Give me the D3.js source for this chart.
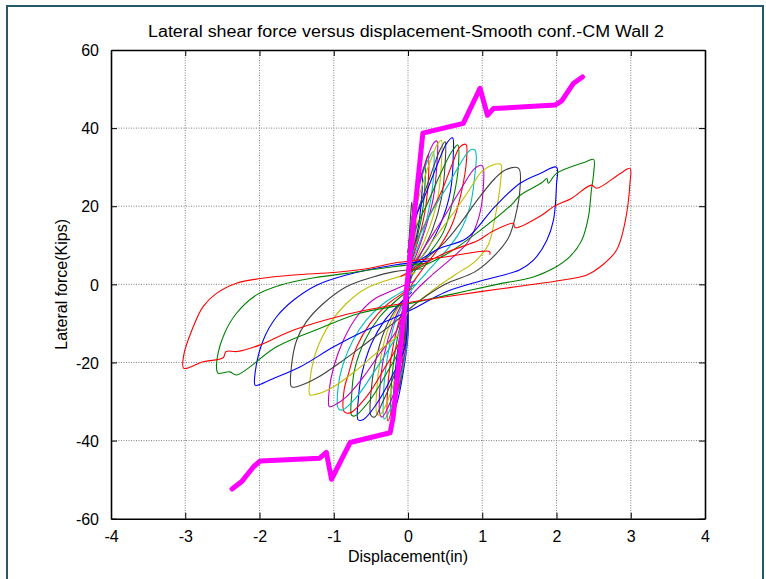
<!DOCTYPE html>
<html><head><meta charset="utf-8">
<script src="https://cdn.jsdelivr.net/npm/d3@7"></script>
<style>body{margin:0;background:#fff}svg{display:block}text{font-family:"Liberation Sans",Arial,sans-serif;fill:#000}</style>
</head><body><div id="chart"></div>
<script>
// ---- data (displacement in, lateral force kips) ----
const xTicks = [-4,-3,-2,-1,0,1,2,3,4];
const yTicks = [-60,-40,-20,0,20,40,60];
const titleText = "Lateral shear force versus displacement-Smooth conf.-CM Wall 2";
const xLabel = "Displacement(in)";
const yLabel = "Lateral force(Kips)";
const colorOrder = ["#0000ff","#008000","#ff0000","#00bfbf","#bf00bf","#bfbf00","#404040"];

const loop00 = [[0,2],[0.02,6],[0.04,8],[0.03,5],[0,1],[-0.02,-5],[-0.04,-10],[-0.03,-6],[0,-2]];
const loop01 = [[0,2],[0.03,7],[0.05,10],[0.04,6],[0,1],[-0.03,-7],[-0.05,-12],[-0.04,-7],[0,-2]];
const loop02 = [[0,3],[0.03,8],[0.06,12],[0.05,8],[0.01,2],[-0.03,-8],[-0.06,-15],[-0.05,-9],[0,-2]];
const loop03 = [[0,3],[0.04,9],[0.08,14],[0.07,9],[0.02,2],[-0.03,-9],[-0.08,-18],[-0.07,-10],[0,-2]];
const loop04 = [[0,3],[0.05,11],[0.1,16],[0.09,11],[0.03,3],[-0.03,-10],[-0.09,-20],[-0.08,-12],[-0.02,-4],[0,-2]];
const loop05 = [[0,3],[0.04,10],[0.09,16],[0.12,18],[0.11,14],[0.07,7],[0.02,2],[0,-2],[-0.04,-10],[-0.09,-18],[-0.11,-22],[-0.1,-17],[-0.06,-9],[-0.02,-4],[0,-2]];
const loop06 = [[0,6],[0.02,13],[0.04,19],[0.05,21],[0.06,18],[0.04,11],[0.01,5],[-0.01,0],[-0.04,-12],[-0.08,-21],[-0.12,-27],[-0.13,-23],[-0.1,-14],[-0.05,-7],[0,-3]];
const loop07 = [[0,8],[0.04,15],[0.09,21],[0.15,26],[0.19,28],[0.19,24],[0.15,16],[0.08,9],[0.02,4],[0,1],[0,-13],[-0.06,-22],[-0.13,-29],[-0.18,-32],[-0.19,-27],[-0.14,-17],[-0.07,-9],[-0.01,-4],[0,-2]];
const loop08 = [[0,8],[0.04,15],[0.1,22],[0.18,28],[0.23,30.5],[0.23,26],[0.19,18],[0.11,11],[0.03,5],[0,2],[-0.01,-14],[-0.08,-23],[-0.17,-30],[-0.22,-33.5],[-0.23,-28],[-0.18,-18],[-0.1,-10],[-0.02,-5],[0,-3]];
const loop09 = [[0,8],[0.05,16],[0.13,24],[0.22,30],[0.27,33.1],[0.28,29],[0.24,20],[0.15,12],[0.05,6],[0,2],[-0.02,-15],[-0.1,-24],[-0.2,-31],[-0.27,-35],[-0.28,-29],[-0.23,-19],[-0.13,-10],[-0.04,-5],[0,-3]];
const loop10 = [[0,8],[0.06,17],[0.15,25],[0.25,31],[0.34,34],[0.35,30],[0.3,21],[0.2,13],[0.08,7],[0,3],[-0.02,-16],[-0.12,-25],[-0.24,-32],[-0.32,-34.5],[-0.33,-28],[-0.28,-19],[-0.18,-10],[-0.06,-5],[0,-3]];
const loop11 = [[0,8],[0.07,18],[0.17,27],[0.28,33.5],[0.35,36.3],[0.39,36.7],[0.39,31],[0.34,22],[0.23,14],[0.1,7],[0,3],[-0.03,-16],[-0.14,-25],[-0.27,-31.5],[-0.35,-34],[-0.38,-33],[-0.38,-27],[-0.32,-18],[-0.2,-10],[-0.08,-5],[0,-3]];
const loop12 = [[0,7],[0.08,17],[0.2,26],[0.33,33],[0.4,36],[0.45,36.9],[0.45,31],[0.4,22],[0.28,14],[0.12,7],[0,3],[-0.04,-15],[-0.17,-24],[-0.3,-31],[-0.38,-33.5],[-0.42,-33],[-0.42,-27],[-0.37,-19],[-0.26,-11],[-0.1,-5],[0,-3]];
const loop13 = [[0,7],[0.1,17],[0.25,25],[0.38,32],[0.43,34.4],[0.5,36.5],[0.5,31],[0.45,22],[0.33,14],[0.15,7],[0,2],[-0.05,-16],[-0.2,-24],[-0.35,-30.5],[-0.45,-34],[-0.5,-33.5],[-0.5,-28],[-0.44,-20],[-0.32,-12],[-0.15,-6],[0,-3]];
const loop14 = [[0,6],[0.07,15.2],[0.25,23.7],[0.41,31.4],[0.52,36.1],[0.6,37.5],[0.61,33.1],[0.57,23.7],[0.45,16],[0.27,9.2],[0.05,3],[-0.04,-16],[-0.22,-23.7],[-0.42,-30.5],[-0.6,-34.6],[-0.67,-34.7],[-0.67,-29.6],[-0.62,-22.8],[-0.49,-15.1],[-0.31,-9.1],[-0.11,-4.9],[0.05,-2]];
const loop15 = [[0,5],[0.09,13.5],[0.27,21.1],[0.45,28.8],[0.59,34],[0.67,35.7],[0.68,30.5],[0.61,22],[0.48,13.5],[0.27,7.5],[0.05,2],[-0.08,-15.1],[-0.29,-22.8],[-0.51,-29.6],[-0.72,-33.7],[-0.76,-33.5],[-0.76,-28.8],[-0.72,-21.9],[-0.58,-14.3],[-0.38,-8.3],[-0.15,-4],[0.05,-1]];
const loop16 = [[0,4],[0.09,10.1],[0.27,16.9],[0.45,23.7],[0.59,30.5],[0.7,35.2],[0.78,35.8],[0.79,32.3],[0.72,23.7],[0.59,15.2],[0.41,9.2],[0.2,4],[0,-2],[-0.11,-14.3],[-0.33,-21.9],[-0.56,-28.8],[-0.78,-32.9],[-0.86,-32.6],[-0.86,-27],[-0.8,-22.8],[-0.69,-16],[-0.51,-10],[-0.29,-5.3],[-0.05,-2],[0.1,0]];
const loop17 = [[0,4],[0.14,11.8],[0.32,18.6],[0.54,25.4],[0.72,31.4],[0.84,34.4],[0.9,34.4],[0.92,32.7],[0.9,28],[0.84,20.3],[0.7,13.5],[0.5,8.3],[0.25,3],[0,-3],[-0.06,-10],[-0.24,-16],[-0.47,-22.8],[-0.69,-28.8],[-0.89,-32.2],[-0.94,-31.7],[-0.94,-26.2],[-0.87,-20.2],[-0.74,-14.3],[-0.56,-9.1],[-0.33,-4.9],[-0.15,-2.7],[0.1,0]];
const loop18 = [[0,3],[0.27,10.9],[0.5,17.7],[0.72,24.6],[0.9,29.7],[1.0,30.4],[1.01,23.7],[0.95,16.9],[0.81,10.9],[0.59,6.7],[0.3,2],[0,-4],[-0.15,-11.7],[-0.38,-17.7],[-0.6,-23.7],[-0.83,-28.8],[-1.0,-31],[-1.06,-31.3],[-1.06,-27],[-1.0,-21.1],[-0.87,-14.3],[-0.69,-8.3],[-0.47,-4],[-0.2,-1.5],[0.1,1]];
const loop19 = [[0,2],[0.36,11.8],[0.59,17.7],[0.81,23.7],[0.99,28.8],[1.13,30.5],[1.25,30.7],[1.25,27],[1.17,16.9],[1.08,10.1],[0.9,5.8],[0.63,2.4],[0.3,-2],[0,-7],[-0.11,-12.5],[-0.38,-16.8],[-0.69,-21.9],[-1.0,-26.2],[-1.23,-28.1],[-1.32,-28.3],[-1.32,-24.5],[-1.23,-16.8],[-1.05,-10],[-0.83,-4.9],[-0.56,-1],[-0.2,1.5],[0.1,3]];
const loop20 = [[0,3],[0.5,10.9],[0.72,16],[0.95,22],[1.17,27.1],[1.31,29.3],[1.49,29.7],[1.51,25],[1.44,16.9],[1.35,11.8],[1.13,6.7],[0.9,3.2],[0.5,0],[0.1,-5],[-0.2,-10],[-0.51,-14.3],[-0.87,-19.4],[-1.23,-24],[-1.5,-26.2],[-1.57,-26.2],[-1.57,-21.1],[-1.5,-14.3],[-1.37,-9.6],[-1.14,-4.9],[-0.83,-0.6],[-0.47,1.9],[-0.2,3.2],[0.2,4]];
const loop21 = [[0,4],[0.4,9],[0.79,11.8],[1.17,19.9],[1.51,25.9],[1.78,28.4],[2.0,30],[2.0,25.5],[1.96,16.5],[1.87,11.3],[1.69,6.2],[1.5,3.7],[1.0,1],[0.5,-2],[0.1,-6],[-0.2,-8.7],[-0.56,-11.7],[-1.0,-16],[-1.45,-21.1],[-1.86,-24.5],[-2.02,-25.8],[-2.06,-25.8],[-2.06,-22.8],[-1.95,-14.3],[-1.77,-8.3],[-1.54,-4],[-1.23,-0.2],[-0.83,2.4],[-0.2,4.9],[0.3,6]];
const loop22 = [[0,3],[0.5,7.5],[0.95,13.5],[1.4,20.5],[1.51,22.8],[1.8,26],[1.87,27.1],[1.89,25.9],[2.0,28.4],[2.4,31.4],[2.5,32],[2.5,28.4],[2.47,24.1],[2.43,17.3],[2.34,11.3],[2.18,7.1],[1.96,4.1],[1.69,1.9],[1.2,0],[0.6,-2.5],[0,-5],[-0.65,-7.4],[-1.19,-11.3],[-1.77,-16],[-2.31,-23.2],[-2.4,-22.4],[-2.55,-22.8],[-2.57,-22.4],[-2.57,-18.9],[-2.47,-12.5],[-2.31,-7.4],[-2.04,-2.7],[-1.72,-0.2],[-1.32,1.5],[-0.83,2.8],[-0.2,4.5],[0.3,5.5]];
const loop23 = [[-0.1,2],[0.5,8],[0.95,11.3],[1.13,13.5],[1.42,15.6],[1.44,14.5],[1.8,17.7],[1.96,19.9],[2.2,22],[2.47,25.4],[2.54,24.6],[2.86,28.4],[2.99,29.7],[2.99,26],[2.92,15.6],[2.81,8.8],[2.59,4.5],[2.41,2.4],[2.09,1.1],[1.5,-0.5],[1,-1.8],[0.4,-3.5],[-0.2,-5.3],[-0.87,-7.9],[-1.54,-11.7],[-1.99,-15.5],[-2.3,-17.2],[-2.45,-17.2],[-2.49,-18.8],[-2.76,-19.8],[-3.02,-21.5],[-3.02,-18.1],[-2.91,-11.7],[-2.76,-5.7],[-2.58,-2.3],[-2.31,0.3],[-1.99,1.5],[-1.54,2.4],[-0.96,3.1],[-0.5,4.2],[-0.2,5.4],[0.5,7],[1.1,8.4],[1.1,7.6]];
const loops = [loop00,loop01,loop02,loop03,loop04,loop05,loop06,loop07,loop08,loop09,loop10,loop11,loop12,loop13,loop14,loop15,loop16,loop17,loop18,loop19,loop20,loop21,loop22,loop23];

const envelope = [[-2.37,-52.4],[-2.24,-50.5],[-2.08,-46.7],[-1.99,-45.2],[-1.19,-44.5],[-1.10,-43.0],[-1.03,-49.9],[-0.78,-40.5],[-0.24,-38.0],[-0.2,-34],[0.2,38.7],[0.745,41.2],[0.97,50.2],[1.07,43.3],[1.15,45.0],[1.98,45.9],[2.07,47],[2.23,51.5],[2.35,53.1]];

// ---- drawing ----
const W = 766, H = 579;
const L = 111, R = 705, T = 50, B = 518.7;
const svg = d3.select("#chart").append("svg").attr("width", W).attr("height", H);
svg.append("rect").attr("x",0).attr("y",0).attr("width",W).attr("height",H).attr("fill","#fff");
// figure frame
svg.append("path").attr("d", `M7,${H+2} L7,6 L763,6 L763,${H+2}`).attr("fill","none").attr("stroke","#225a6c").attr("stroke-width",2);

const x = d3.scaleLinear().domain([-4,4]).range([L,R]);
const y = d3.scaleLinear().domain([-60,60]).range([B,T]);

// grid
const grid = svg.append("g");
xTicks.slice(1,-1).forEach(t => grid.append("line").attr("x1",x(t)).attr("x2",x(t)).attr("y1",T).attr("y2",B)
  .attr("stroke","#808080").attr("stroke-width",1).attr("stroke-dasharray","1,1.5"));
yTicks.slice(1,-1).forEach(t => grid.append("line").attr("y1",y(t)).attr("y2",y(t)).attr("x1",L).attr("x2",R)
  .attr("stroke","#808080").attr("stroke-width",1).attr("stroke-dasharray","1,1.5"));

// loops
svg.append("clipPath").attr("id","clip").append("rect").attr("x",L).attr("y",T).attr("width",R-L).attr("height",B-T);
const line = d3.line().x(d => x(d[0])).y(d => y(d[1])).curve(d3.curveCatmullRom.alpha(0.5));
const plot = svg.append("g").attr("clip-path","url(#clip)");
loops.forEach((lp,i) => plot.append("path").attr("d", line(lp)).attr("fill","none")
  .attr("stroke", colorOrder[i % 7]).attr("stroke-width",1.1).attr("stroke-linejoin","round"));

// envelope
const envLine = d3.line().x(d => x(d[0])).y(d => y(d[1]));
plot.append("path").attr("d", envLine(envelope)).attr("fill","none").attr("stroke","#ff00ff")
  .attr("stroke-width",5).attr("stroke-linejoin","round").attr("stroke-linecap","round");

// axes (MATLAB style box with inward ticks)
const tk = 6;
const fmt = d => String(d);
const gx = svg.append("g").attr("transform",`translate(0,${B})`)
  .call(d3.axisBottom(x).tickValues(xTicks).tickFormat(fmt).tickSizeInner(-tk).tickSizeOuter(0).tickPadding(12));
const gxt = svg.append("g").attr("transform",`translate(0,${T})`)
  .call(d3.axisTop(x).tickValues(xTicks).tickSizeInner(-tk).tickSizeOuter(0).tickFormat(""));
const gy = svg.append("g").attr("transform",`translate(${L},0)`)
  .call(d3.axisLeft(y).tickValues(yTicks).tickFormat(fmt).tickSizeInner(-tk).tickSizeOuter(0).tickPadding(12));
const gyr = svg.append("g").attr("transform",`translate(${R},0)`)
  .call(d3.axisRight(y).tickValues(yTicks).tickSizeInner(-tk).tickSizeOuter(0).tickFormat(""));
[gx,gxt,gy,gyr].forEach(g => {
  g.select(".domain").attr("stroke","#000").attr("stroke-width",1.6);
  g.selectAll(".tick line").attr("stroke","#000").attr("stroke-width",1);
  g.selectAll("text").attr("font-family","Liberation Sans, Arial, sans-serif").attr("font-size",16).attr("fill","#000");
});
gy.selectAll("text").attr("dy","0.36em");

// titles
svg.append("text").attr("x",406).attr("y",37).attr("text-anchor","middle").attr("font-size",16)
  .attr("textLength",516).attr("lengthAdjust","spacingAndGlyphs").text(titleText);
svg.append("text").attr("x",408).attr("y",562).attr("text-anchor","middle").attr("font-size",16).text(xLabel);
svg.append("text").attr("transform",`translate(67,${(T+B)/2}) rotate(-90)`).attr("text-anchor","middle").attr("font-size",16).text(yLabel);
</script></body></html>
